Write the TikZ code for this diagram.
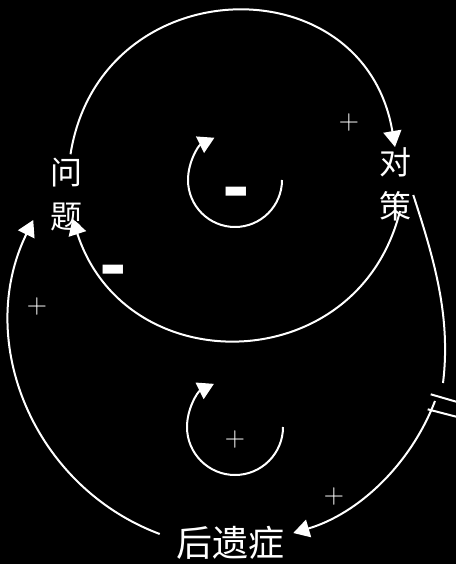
\documentclass[tikz,border=0pt]{standalone}
\usepackage{fontspec}
\usepackage{tikz}
\usetikzlibrary{arrows.meta}
\newfontfamily\cjk{Noto Sans CJK SC}
\tikzstyle{var}=[text=white, inner sep=0pt, align=center, font=\cjk\fontsize{24}{33}\selectfont]
\tikzstyle{sgn}=[text=white, inner sep=0pt, font=\fontsize{21}{21}\selectfont]
\tikzstyle{neg}=[text=white, inner sep=0pt, font=\cjk\bfseries\fontsize{54}{54}\selectfont]
\tikzstyle{link}=[draw=white, line width=1.5pt, -{Triangle[length=12pt,width=13.5pt]}]
\tikzstyle{bar}=[draw=white, line width=1.5pt]

\begin{document}
\begin{tikzpicture}
        [x=0.75pt,y=0.75pt]
            \path [use as bounding box, fill=black] (0,0) rectangle (456,564);
            \node [var] (wenti) at (66.5,369) {问\\题};
            \node [var] (duice) at (395,380) {对\\策};
            \node [var, font=\cjk\fontsize{27}{27}\selectfont] (houyi) at (230,21) {后遗症};
            \coordinate (gapa) at (443,181);
            \coordinate (gapb) at (435,163);
            % links between the variables
            \draw [link] ([shift={(4,4)}]wenti.north) to[out=81, in=99.5, looseness=1.48] (duice.north);
            \draw [link] ([shift={(5,10)}]duice.south) to[out=-104, in=-72, looseness=1.35] ([shift={(6,13)}]wenti.south);
            \draw [link] ([shift={(-16,9)}]houyi.west) to[out=159.5, in=-116, looseness=1.02] ([shift={(-17,-25)}]wenti.west);
            \draw [bar] ([shift={(2,-11)}]duice.east) to[out=-72, in=83, looseness=0.9] (gapa);
            \draw [link] (gapb) to[out=-111, in=16.5, looseness=0.9] ([shift={(9,10)}]houyi.east);
            % delay mark
            \draw [bar] (430.7,169.7) -- (470,158.3);
            \draw [bar] (427.7,154.7) -- (470,143.7);
            % loop symbols
            \draw [link] (282,384) arc[start angle=0, end angle=-244, radius=47];
            \draw [link] (283,137) arc[start angle=0, end angle=-244, radius=48];
            \node [neg] (n1) at (236,364) {-};
            \node [neg] (n2) at (113,286) {-};
            \node [sgn] (p1) at (349,441) {+};
            \node [sgn] (p2) at (37,257) {+};
            \node [sgn] (p3) at (334,67) {+};
            \node [sgn] (p4) at (235,124) {+};
        \end{tikzpicture}
\end{document}
